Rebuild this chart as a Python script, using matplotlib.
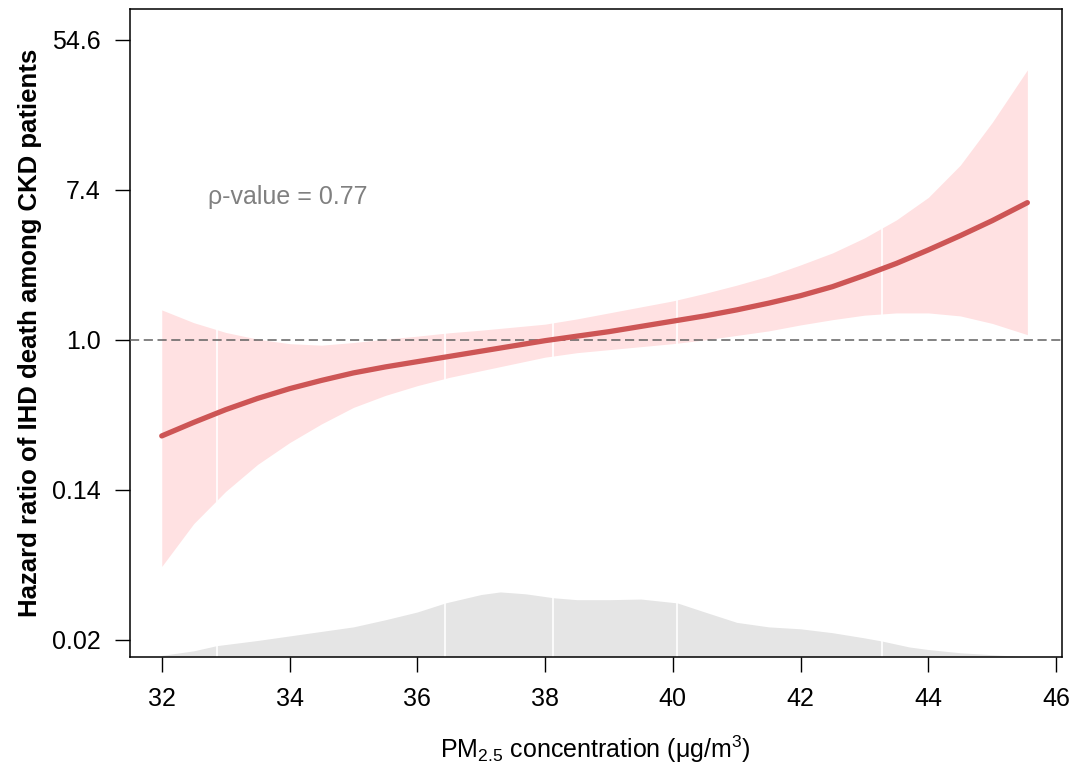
import numpy as np
import matplotlib
matplotlib.use("Agg")
import matplotlib.pyplot as plt

# PM2.5 grid and log hazard ratio (estimate with 95% CI)
pm25 = [32.0, 32.5, 33.0, 33.5, 34.0, 34.5, 35.0, 35.5, 36.0, 36.5, 37.0, 37.5,
        38.0, 38.5, 39.0, 39.5, 40.0, 40.5, 41.0, 41.5, 42.0, 42.5, 43.0, 43.5,
        44.0, 44.5, 45.0, 45.55]
log_hr = [-1.28, -1.10, -0.93, -0.78, -0.65, -0.54, -0.44, -0.36, -0.29, -0.22,
          -0.15, -0.08, -0.01, 0.05, 0.11, 0.18, 0.25, 0.32, 0.40, 0.49, 0.59,
          0.71, 0.86, 1.02, 1.20, 1.39, 1.59, 1.83]
log_upper = [0.40, 0.23, 0.10, 0.01, -0.05, -0.07, -0.035, 0.01, 0.05, 0.095,
             0.13, 0.17, 0.21, 0.28, 0.36, 0.44, 0.52, 0.62, 0.73, 0.85, 1.00,
             1.16, 1.36, 1.60, 1.90, 2.33, 2.90, 3.60]
log_lower = [-3.02, -2.45, -2.02, -1.66, -1.37, -1.12, -0.90, -0.74, -0.61, -0.50,
             -0.41, -0.32, -0.23, -0.17, -0.13, -0.09, -0.05, 0.00, 0.06, 0.12,
             0.20, 0.27, 0.33, 0.36, 0.36, 0.32, 0.22, 0.07]

# exposure distribution (relative height, fraction of panel)
dens_x = [32.0, 32.5, 32.86, 33.5, 34.0, 34.5, 35.0, 35.5, 36.0, 36.44, 37.0, 37.3,
          37.7, 38.13, 38.5, 39.0, 39.5, 40.07, 40.5, 41.0, 41.5, 42.0, 42.5, 43.0,
          43.28, 43.7, 44.0, 44.5, 45.0, 45.5]
dens_y = [0.002, 0.009, 0.017, 0.025, 0.032, 0.039, 0.046, 0.057, 0.069, 0.083,
          0.096, 0.100, 0.097, 0.091, 0.088, 0.088, 0.089, 0.083, 0.069, 0.053,
          0.046, 0.043, 0.037, 0.029, 0.024, 0.015, 0.011, 0.006, 0.003, 0.000]

knots = [32.86, 36.44, 38.13, 40.07, 43.28]

y_ticks = [-4, -2, 0, 2, 4]
y_labels = ["0.02", "0.14", "1.0", "7.4", "54.6"]
x_ticks = [32, 34, 36, 38, 40, 42, 44, 46]

plt.rcParams['font.family'] = ['Liberation Sans', 'DejaVu Sans']
plt.rcParams['mathtext.fontset'] = 'custom'
plt.rcParams['mathtext.rm'] = 'Liberation Sans'
plt.rcParams['mathtext.it'] = 'Liberation Sans:italic'

fig = plt.figure(figsize=(10.76, 7.81), dpi=100)
ax = fig.add_axes([0.1204, 0.1592, 0.8664, 0.829])

ax.fill_between(dens_x, 0, dens_y, color='#E5E5E5', lw=0,
                transform=ax.get_xaxis_transform(), zorder=1)
ax.fill_between(pm25, log_lower, log_upper, color='#FFE1E2', lw=0, zorder=1)
for k in knots:
    ax.axvline(k, color='white', lw=1.2, zorder=2)
ax.axhline(0, color='#606060', lw=1.1, linestyle=(0, (6, 3)), zorder=3)
ax.plot(pm25, log_hr, color='#CD5555', lw=3.8, solid_capstyle='round',
        solid_joinstyle='round', zorder=4)

ax.text(32.72, 1.91, "\u03c1-value = 0.77", color='#808080', fontsize=18,
        ha='left', va='center')

ax.set_xlim(31.496, 46.089)
ax.set_ylim(-4.223, 4.409)
ax.set_xticks(x_ticks)
ax.set_yticks(y_ticks)
ax.set_yticklabels(y_labels)
ax.tick_params(axis='both', direction='out', length=11, width=1.0,
               labelsize=18, colors='black')
ax.tick_params(axis='x', pad=11)
ax.tick_params(axis='y', pad=10)
for s in ax.spines.values():
    s.set_linewidth(1.1)

ax.set_xlabel("PM$_{2.5}$ concentration (\u03bcg/m$^3$)", fontsize=18, labelpad=16)
ax.set_ylabel("Hazard ratio of IHD death among CKD patients", fontsize=18.5,
              fontweight='bold', labelpad=7)

fig.savefig("out.png", dpi=100)
